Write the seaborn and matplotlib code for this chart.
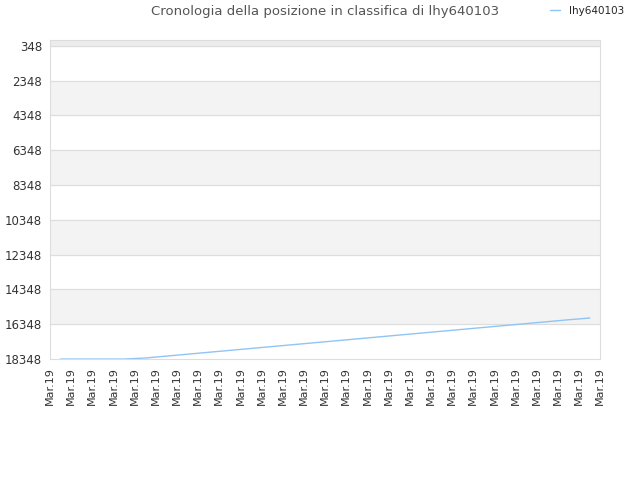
import matplotlib
matplotlib.use("Agg")
import matplotlib.pyplot as plt
import seaborn as sns
import pandas as pd

tick_labels = ["Mar.19"] * 27
x_pos = [0.5,1.5,2.5,3.5,4.5,5.5,6.5,7.5,8.5,9.5,10.5,11.5,12.5,13.5,14.5,15.5,16.5,17.5,18.5,19.5,20.5,21.5,22.5,23.5,24.5,25.5]
ranks = [18348,18348,18348,18348,18290,18180,18070,17960,17850,17740,17630,17520,17410,17300,17190,17080,16970,16860,16750,16640,16530,16420,16310,16200,16090,15990]
df = pd.DataFrame({"x": x_pos, "rank": ranks})

sns.set_style("white")
fig, ax = plt.subplots(figsize=(6.4, 4.8), dpi=100)
fig.subplots_adjust(left=0.078, right=0.938, top=0.917, bottom=0.252)
sns.lineplot(data=df, x="x", y="rank", ax=ax, color="#90c4f4", linewidth=1, label="lhy640103")

yticks = list(range(348, 18349, 2000))
ax.set_ylim(18348, 0)
ax.set_xlim(0, 26)
ax.axhspan(348, 0, color="#ececec", zorder=0)
for i, y in enumerate(yticks[:-1]):
    if i % 2 == 1:
        ax.axhspan(y, y + 2000, color="#f3f3f3", zorder=0)
    ax.axhline(y, color="#dddddd", linewidth=0.8, zorder=0)
ax.set_yticks(yticks)
ax.set_yticklabels([str(v) for v in yticks], fontsize=8.5, color="#333333")
ax.set_xticks(range(27))
ax.set_xticklabels(tick_labels, rotation=90, fontsize=8, color="#333333")
ax.set_xlabel("")
ax.set_ylabel("")
for s in ax.spines.values():
    s.set_color("#dddddd")
ax.tick_params(length=2, color="#bbbbbb")
ax.set_title("Cronologia della posizione in classifica di lhy640103", fontsize=9.5, color="#555555", pad=18)
ax.legend(loc="upper right", bbox_to_anchor=(1.06, 1.135), frameon=False, fontsize=7.5, handlelength=1)
fig.savefig("out.png")
